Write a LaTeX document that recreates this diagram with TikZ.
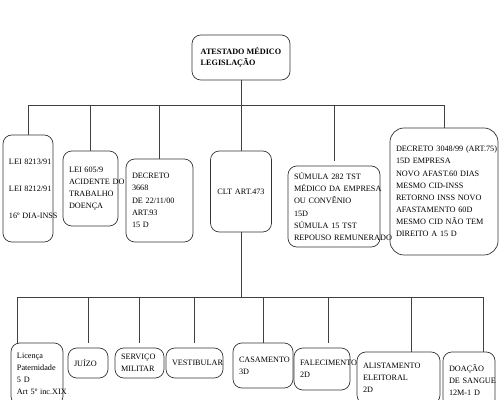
\documentclass[tikz,border=0pt]{standalone}
\usepackage{fontspec}
\setmainfont{Liberation Serif}

\begin{document}
\begin{tikzpicture}[
  x=0.03cm, y=-0.03cm,
  font=\fontsize{7}{10.4}\selectfont,
  box/.style={
    rounded corners=7.5pt,
    draw=black!80,
    line width=0.6pt,
    align=left,
    inner xsep=0.18cm,
    inner ysep=2pt
  },
  link/.style={draw=black!75, line width=0.6pt},
  gapped/.style={shorten >=0.15cm}
]
\useasboundingbox (0,0) rectangle (500,400);
\clip (0,0) rectangle (500,400);

% top
\node[box, minimum width=2.94cm, minimum height=1.35cm, font=\fontsize{7}{9.4}\selectfont\bfseries] (top) at (241,57.5)
{ATESTADO MÉDICO\\LEGISLAÇÃO};

% first row
\node[box, text width=1.14cm, minimum height=3.21cm] (lei8213) at (28,188.5)
{\mbox{LEI 8213/91}\\[0.44cm]\mbox{LEI 8212/91}\\[0.44cm]\mbox{16º DIA-INSS}};
\node[box, text width=1.29cm, minimum height=2.25cm] (lei605) at (90.5,188.5)
{LEI 605/9\\\mbox{ACIDENTE DO}\\TRABALHO\\DOENÇA};
\node[box, text width=1.65cm, minimum height=2.49cm] (dec3668) at (159.5,200.5)
{DECRETO\\3668\\DE 22/11/00\\ART.93\\15 D};
\node[box, text width=1.47cm, minimum height=2.43cm, align=center] (clt) at (241,191.5)
{CLT ART.473};
\node[box, text width=2.4cm, minimum height=2.43cm] (sumula) at (334,206.5)
{SÚMULA 282 TST\\\mbox{MÉDICO DA EMPRESA}\\OU CONVÊNIO\\15D\\SÚMULA 15 TST\\\mbox{REPOUSO REMUNERADO}};
\node[box, rounded corners=12pt, text width=2.88cm, minimum height=3.81cm] (dec3048) at (444,191.5)
{\mbox{DECRETO 3048/99 (ART.75)}\\15D EMPRESA\\NOVO AFAST.60 DIAS\\MESMO CID-INSS\\RETORNO INSS NOVO\\AFASTAMENTO 60D\\MESMO CID NÃO TEM\\DIREITO A 15 D};

% second row
\node[box, text width=1.2cm, minimum height=1.86cm] (licenca) at (37,374)
{Licença\\Paternidade\\5 D\\\mbox{Art 5º inc.XIX}};
\node[box, text width=0.84cm, minimum height=0.9cm] (juizo) at (88,363) {JUÍZO};
\node[box, text width=1.11cm, minimum height=0.9cm] (militar) at (139.5,363) {SERVIÇO\\MILITAR};
\node[box, text width=1.35cm, minimum height=0.9cm] (vestib) at (194.5,363) {VESTIBULAR};
\node[box, text width=1.44cm, minimum height=1.35cm] (casam) at (263,365.5) {CASAMENTO\\3D};
\node[box, text width=1.32cm, minimum height=1.26cm] (falec) at (322,369) {FALECIMENTO\\2D};
\node[box, text width=2.13cm, minimum height=1.56cm] (alist) at (398.5,378) {ALISTAMENTO\\ELEITORAL\\2D};
\node[box, text width=1.2cm, minimum height=1.68cm] (doacao) at (469,380) {DOAÇÃO\\\mbox{DE SANGUE}\\12M-1 D};

% connectors
\coordinate (bus1) at (241,105);
\coordinate (bus2) at (241,297);
\draw[link] (top) -- (bus1);
\foreach \n in {lei8213,lei605,dec3668,clt,dec3048}
  \draw[link] (bus1) -| (\n);
\draw[link, gapped] (bus1) -| (sumula);

\draw[link] (clt) -- (bus2);
\draw[link] (bus2) -| ([xshift=-0.6cm]licenca.north);
\foreach \n in {juizo,militar,vestib}
  \draw[link, gapped] (bus2) -| (\n);
\draw[link] (bus2) -| (casam);
\draw[link, gapped] (bus2) -| ([xshift=0.18cm]falec.north);
\draw[link] (bus2) -| ([xshift=0.375cm]alist.north);
\draw[link] (bus2) -| ([xshift=0.42cm]doacao.north);
\end{tikzpicture}
\end{document}
